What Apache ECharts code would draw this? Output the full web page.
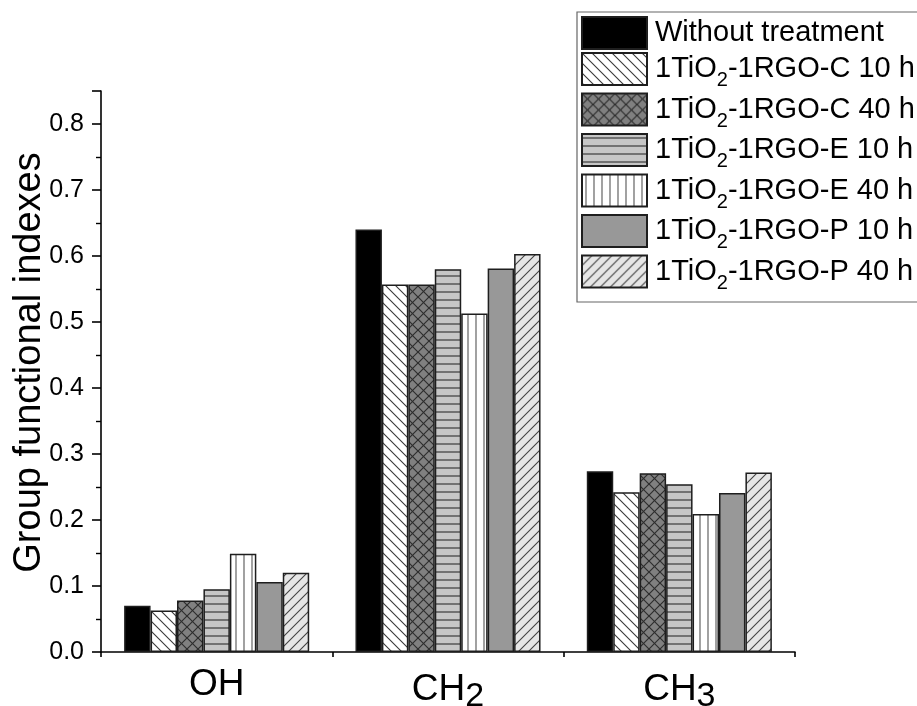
<!DOCTYPE html>
<html>
<head>
<meta charset="utf-8">
<script src="https://cdn.jsdelivr.net/npm/echarts@6/dist/echarts.min.js"></script>
<style>
html,body{margin:0;padding:0;background:#fff;}
#chart{width:917px;height:706px;}
</style>
</head>
<body>
<div id="chart"></div>
<script>
// ---- data ----
var categories = ['OH', 'CH2', 'CH3'];
var seriesNames = ['Without treatment', '1TiO2-1RGO-C 10 h', '1TiO2-1RGO-C 40 h',
  '1TiO2-1RGO-E 10 h', '1TiO2-1RGO-E 40 h', '1TiO2-1RGO-P 10 h', '1TiO2-1RGO-P 40 h'];
var withoutTreatment = [0.070, 0.640, 0.274];
var c10h = [0.063, 0.557, 0.242];
var c40h = [0.078, 0.557, 0.271];
var e10h = [0.095, 0.580, 0.254];
var e40h = [0.149, 0.513, 0.209];
var p10h = [0.106, 0.581, 0.241];
var p40h = [0.120, 0.603, 0.272];
var yTicks = [0.0, 0.1, 0.2, 0.3, 0.4, 0.5, 0.6, 0.7, 0.8];
var yTitle = 'Group functional indexes';

var seriesValues = [withoutTreatment, c10h, c40h, e10h, e40h, p10h, p40h];

// ---- patterns ----
function makePattern(size, bg, draw) {
  var c = document.createElement('canvas');
  c.width = size; c.height = size;
  var ctx = c.getContext('2d');
  ctx.fillStyle = bg; ctx.fillRect(0, 0, size, size);
  draw(ctx, size);
  return { image: c, repeat: 'repeat' };
}
function backslash(color, w) {
  return function (ctx, s) {
    ctx.strokeStyle = color; ctx.lineWidth = w;
    ctx.beginPath();
    ctx.moveTo(-1, -1); ctx.lineTo(s + 1, s + 1);
    ctx.moveTo(-1, s - 1); ctx.lineTo(1, s + 1);
    ctx.moveTo(s - 1, -1); ctx.lineTo(s + 1, 1);
    ctx.stroke();
  };
}
function slash(color, w) {
  return function (ctx, s) {
    ctx.strokeStyle = color; ctx.lineWidth = w;
    ctx.beginPath();
    ctx.moveTo(-1, s + 1); ctx.lineTo(s + 1, -1);
    ctx.moveTo(-1, 1); ctx.lineTo(1, -1);
    ctx.moveTo(s - 1, s + 1); ctx.lineTo(s + 1, s - 1);
    ctx.stroke();
  };
}
var fills = [
  '#000000',
  makePattern(10, '#ffffff', backslash('#3a3a3a', 1.1)),
  makePattern(11, '#808080', function (ctx, s) { backslash('#2e2e2e', 1.2)(ctx, s); slash('#2e2e2e', 1.2)(ctx, s); }),
  makePattern(8, '#c6c6c6', function (ctx, s) {
    ctx.strokeStyle = '#3a3a3a'; ctx.lineWidth = 1.2;
    ctx.beginPath(); ctx.moveTo(0, 4); ctx.lineTo(s, 4); ctx.stroke();
  }),
  makePattern(8, '#ffffff', function (ctx, s) {
    ctx.strokeStyle = '#555555'; ctx.lineWidth = 1.1;
    ctx.beginPath(); ctx.moveTo(4, 0); ctx.lineTo(4, s); ctx.stroke();
  }),
  '#989898',
  makePattern(10, '#e6e6e6', slash('#444444', 1.1))
];

var FONT = 'Arial, "Liberation Sans", sans-serif';

function legendFmt(name) {
  var i = name.indexOf('TiO2');
  if (i < 0) return '{f|' + name + '}';
  return '{f|' + name.slice(0, i + 3) + '}{s|2}{m|' + name.slice(i + 4) + '}';
}
function catFmt(name) {
  var m = name.match(/^([A-Z]+)(\d*)$/);
  if (!m || !m[2]) return '{m|' + name + '}';
  return '{m|' + m[1] + '}{s|' + m[2] + '}';
}

var series = seriesNames.map(function (n, k) {
  return {
    name: n,
    type: 'bar',
    data: seriesValues[k],
    barGap: '0%',
    barCategoryGap: '20%',
    itemStyle: { color: fills[k], borderColor: '#1e1e1e', borderWidth: 1.5 },
    emphasis: { disabled: true }
  };
});

var gridBox = { left: 101, right: 122, top: 91, bottom: 54, containLabel: false, outerBoundsMode: 'none' };

var chart = echarts.init(document.getElementById('chart'), null, { renderer: 'canvas' });
chart.setOption({
  animation: false,
  backgroundColor: '#ffffff',
  textStyle: { fontFamily: FONT },
  grid: [
    Object.assign({}, gridBox),
    Object.assign({}, gridBox)
  ],
  legend: {
    orient: 'vertical',
    left: 577,
    top: 12,
    data: seriesNames,
    icon: 'rect',
    itemWidth: 65,
    itemHeight: 32,
    itemGap: 2,
    padding: [4, 4, 9, 4],
    borderColor: '#666666',
    borderWidth: 1.2,
    selectedMode: false,
    formatter: legendFmt,
    textStyle: {
      color: '#000',
      fontFamily: FONT,
      rich: {
        f: { fontSize: 29, color: '#000', fontFamily: FONT, verticalAlign: 'middle', padding: [0, 0, 0, 3] },
        m: { fontSize: 29, color: '#000', fontFamily: FONT, verticalAlign: 'middle' },
        s: { fontSize: 20, color: '#000', fontFamily: FONT, verticalAlign: 'bottom', padding: [23, 0, 0, 0] }
      }
    }
  },
  xAxis: [
    {
      type: 'category',
      gridIndex: 0,
      data: categories,
      axisLine: { lineStyle: { color: '#000', width: 1.6 } },
      axisTick: { alignWithLabel: true, length: 10, lineStyle: { color: '#000', width: 1.6 } },
      axisLabel: {
        margin: 14,
        formatter: catFmt,
        rich: {
          m: { fontSize: 37, color: '#000', fontFamily: FONT, verticalAlign: 'middle' },
          s: { fontSize: 34, color: '#000', fontFamily: FONT, verticalAlign: 'bottom', padding: [14, 0, 0, 0] }
        }
      },
      splitLine: { show: false }
    },
    {
      type: 'value',
      gridIndex: 1,
      min: 0, max: 3, interval: 1,
      axisLine: { show: false },
      axisTick: { show: true, length: 5, lineStyle: { color: '#000', width: 1.6 } },
      axisLabel: { show: false },
      splitLine: { show: false }
    }
  ],
  yAxis: [
    {
      type: 'value',
      gridIndex: 0,
      min: 0,
      max: 0.85,
      interval: 0.1,
      name: yTitle,
      nameLocation: 'middle',
      nameGap: 52,
      nameMoveOverlap: false,
      nameTextStyle: { fontSize: 38, color: '#000', fontFamily: FONT, padding: [0, 0, 0, 18] },
      axisLine: { show: true, lineStyle: { color: '#000', width: 1.6 } },
      axisTick: { show: true, length: 9, lineStyle: { color: '#000', width: 1.6 } },
      minorTick: { show: true, splitNumber: 2, length: 5, lineStyle: { color: '#000', width: 1.4 } },
      axisLabel: {
        fontSize: 25, color: '#000', margin: 17, showMaxLabel: false,
        formatter: function (v) {
          for (var i = 0; i < yTicks.length; i++) if (Math.abs(yTicks[i] - v) < 1e-6) return yTicks[i].toFixed(1);
          return '';
        }
      },
      splitLine: { show: false }
    },
    {
      type: 'value', gridIndex: 1, min: 0, max: 1,
      axisLine: { show: false }, axisTick: { show: false }, axisLabel: { show: false }, splitLine: { show: false }
    }
  ],
  series: series
});
</script>
</body>
</html>
